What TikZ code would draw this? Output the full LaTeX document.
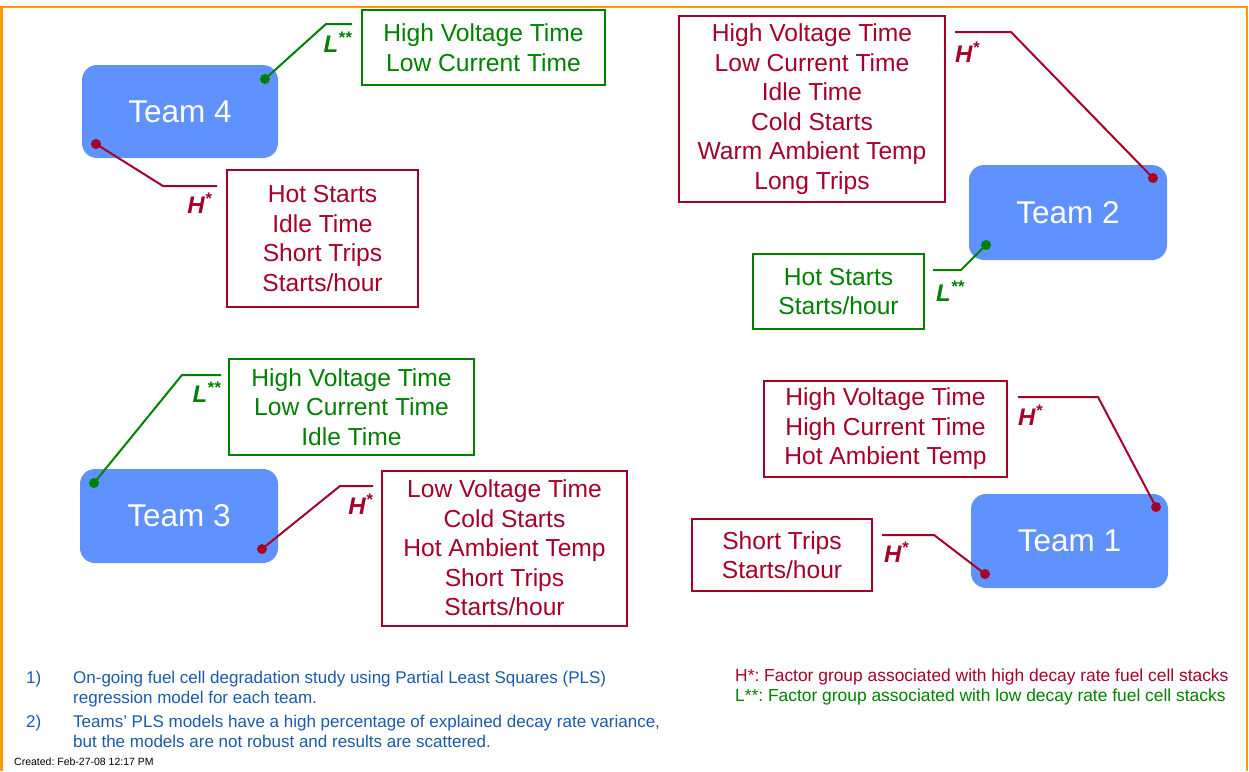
\documentclass[tikz,border=0pt]{standalone}
\usepackage{fontspec}
\setmainfont{Liberation Sans}
\frenchspacing
\definecolor{teamblue}{RGB}{96,146,255}
\definecolor{hired}{RGB}{165,0,40}
\definecolor{logreen}{RGB}{0,128,0}
\definecolor{noteblue}{RGB}{25,90,170}
\definecolor{frameorange}{RGB}{255,153,0}

\begin{document}
\begin{tikzpicture}[x=1pt,y=-1pt,
  team/.style={fill=teamblue,rounded corners=15pt,text=white,inner sep=0,font=\fontsize{31.5}{36}\selectfont},
  hbox/.style={draw=hired,line width=2pt,text=hired,align=center,inner sep=0,font=\fontsize{24.6}{29.5}\selectfont},
  lbox/.style={hbox,draw=logreen,text=logreen},
  hline/.style={draw=hired,line width=2pt},
  lline/.style={draw=logreen,line width=2pt},
  hdot/.style={circle,fill=hired,inner sep=0,minimum size=10pt},
  ldot/.style={hdot,fill=logreen},
  tag/.style={inner sep=0,font=\fontsize{24}{24}\selectfont\bfseries\itshape},
  note/.style={inner sep=0,anchor=base west,font=\fontsize{17}{20}\selectfont}]
\useasboundingbox (0,0) rectangle (1249,771);
\draw[frameorange,line width=2.5pt] (1.5,771) -- (1.5,7) -- (1247,7) -- (1247,771);

% team boxes
\node[team,minimum width=196pt,minimum height=93pt] (team4) at (180,111.5) {Team 4};
\node[team,minimum width=198pt,minimum height=95pt] (team2) at (1068,212.5) {Team 2};
\node[team,minimum width=198pt,minimum height=94pt] (team3) at (179,516) {Team 3};
\node[team,minimum width=197pt,minimum height=94pt] (team1) at (1069.5,541) {Team 1};

% factor boxes
\node[lbox,minimum width=243pt,minimum height=75pt] (t4lbox) at (483.5,47.5) {High Voltage Time\\Low Current Time};
\node[hbox,minimum width=191pt,minimum height=137pt] (t4hbox) at (322.5,238.5) {Hot Starts\\Idle Time\\Short Trips\\Starts/hour};
\node[hbox,minimum width=266pt,minimum height=186pt] (t2hbox) at (812,109) {High Voltage Time\\Low Current Time\\Idle Time\\Cold Starts\\Warm Ambient Temp\\Long Trips};
\node[lbox,minimum width=171pt,minimum height=75pt] (t2lbox) at (838.5,291.5) {Hot Starts\\Starts/hour};
\node[lbox,minimum width=245pt,minimum height=96pt] (t3lbox) at (351.5,407) {High Voltage Time\\Low Current Time\\Idle Time};
\node[hbox,minimum width=245pt,minimum height=155pt] (t3hbox) at (504.5,548) {Low Voltage Time\\Cold Starts\\Hot Ambient Temp\\Short Trips\\Starts/hour};
\node[hbox,minimum width=243pt,minimum height=96pt] (t1hbox) at (885.5,429) {High Voltage Time\\High Current Time\\Hot Ambient Temp};
\node[hbox,minimum width=180pt,minimum height=72pt] (t1hbox2) at (782,555) {Short Trips\\Starts/hour};

% dots
\node[ldot] (t4ldot) at (265,79) {};
\node[hdot] (t4hdot) at (96,144) {};
\node[hdot] (t2hdot) at (1153,178) {};
\node[ldot] (t2ldot) at (986,245) {};
\node[ldot] (t3ldot) at (94,483) {};
\node[hdot] (t3hdot) at (262,549) {};
\node[hdot] (t1hdot) at (1156,507) {};
\node[hdot] (t1hdot2) at (985,574) {};

% bends and free ends
\coordinate (t4lbend) at (326,24);  \coordinate (t4lend) at (352,24);
\coordinate (t4hbend) at (163,186); \coordinate (t4hend) at (217,186);
\coordinate (t2hbend) at (1011,32); \coordinate (t2hend) at (955,32);
\coordinate (t2lbend) at (961,270); \coordinate (t2lend) at (933,270);
\coordinate (t3lbend) at (182,375); \coordinate (t3lend) at (221,375);
\coordinate (t3hbend) at (340,486); \coordinate (t3hend) at (373,486);
\coordinate (t1hbend) at (1098,397); \coordinate (t1hend) at (1018,397);
\coordinate (t1hbend2) at (934,535); \coordinate (t1hend2) at (882,535);

% connectors
\draw[lline] (t4ldot.center) -- (t4lbend) -- (t4lend);
\draw[hline] (t4hdot.center) -- (t4hbend) -- (t4hend);
\draw[hline] (t2hdot.center) -- (t2hbend) -- (t2hend);
\draw[lline] (t2ldot.center) -- (t2lbend) -- (t2lend);
\draw[lline] (t3ldot.center) -- (t3lbend) -- (t3lend);
\draw[hline] (t3hdot.center) -- (t3hbend) -- (t3hend);
\draw[hline] (t1hdot.center) -- (t1hbend) -- (t1hend);
\draw[hline] (t1hdot2.center) -- (t1hbend2) -- (t1hend2);

% tags
\node[tag,text=logreen,anchor=north east] (t4ltag) at ([yshift=-8pt]t4lend) {L\textsuperscript{**}};
\node[tag,text=hired,anchor=north east] (t4htag) at ([xshift=-5pt,yshift=-7pt]t4hend) {H\textsuperscript{*}};
\node[tag,text=hired,anchor=north west] (t2htag) at ([yshift=-10pt]t2hend) {H\textsuperscript{*}};
\node[tag,text=logreen,anchor=north west] (t2ltag) at ([xshift=3pt,yshift=-11pt]t2lend) {L\textsuperscript{**}};
\node[tag,text=logreen,anchor=north east] (t3ltag) at ([yshift=-7pt]t3lend) {L\textsuperscript{**}};
\node[tag,text=hired,anchor=north east] (t3htag) at ([yshift=-8pt]t3hend) {H\textsuperscript{*}};
\node[tag,text=hired,anchor=north west] (t1htag) at ([yshift=-8pt]t1hend) {H\textsuperscript{*}};
\node[tag,text=hired,anchor=north west] (t1htag2) at ([xshift=2pt,yshift=-7pt]t1hend2) {H\textsuperscript{*}};

% notes
\node[note,text=noteblue] (num1) at (26,683) {1)};
\node[note,text=noteblue] (note1) at (73,683) {On-going fuel cell degradation study using Partial Least Squares (PLS)};
\node[note,text=noteblue] (note1b) at (73,703) {regression model for each team.};
\node[note,text=noteblue] (num2) at (26,727) {2)};
\node[note,text=noteblue] (note2) at (73,727) {Teams’ PLS models have a high percentage of explained decay rate variance,};
\node[note,text=noteblue] (note2b) at (73,747) {but the models are not robust and results are scattered.};
\node[note,text=hired,font=\fontsize{17.4}{20}\selectfont] (hkey) at (735,681) {H*: Factor group associated with high decay rate fuel cell stacks};
\node[note,text=logreen,font=\fontsize{17.4}{20}\selectfont] (lkey) at (735,701) {L**: Factor group associated with low decay rate fuel cell stacks};
\node[note,font=\fontsize{10.5}{12}\selectfont] (created) at (14,765) {Created: Feb-27-08 12:17 PM};
\end{tikzpicture}
\end{document}
